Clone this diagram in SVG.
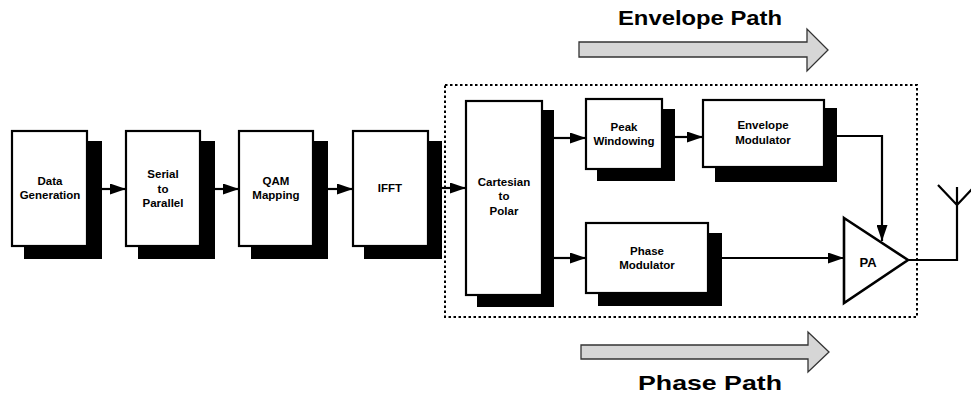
<svg xmlns="http://www.w3.org/2000/svg" width="971" height="394" viewBox="0 0 971 394">
<style>
.box{fill:#fff;stroke:#000;stroke-width:2.2}
.sh{fill:#000}
.t{font-family:"Liberation Sans",Arial,sans-serif;font-weight:bold;font-size:11.5px;fill:#000;text-anchor:middle}
.big{font-family:"Liberation Sans",Arial,sans-serif;font-weight:bold;font-size:21px;fill:#000;text-anchor:middle}
.ln{fill:none;stroke:#000;stroke-width:2.2}
.fat{fill:#d6d6d6;stroke:#333;stroke-width:1.3}
</style>
<defs>
<marker id="ah" markerUnits="userSpaceOnUse" markerWidth="16" markerHeight="11" refX="16" refY="5.5" orient="auto">
<path d="M0,0 L16,5.5 L0,11 Z" fill="#000"/>
</marker>
</defs>
<rect width="971" height="394" fill="#fff"/>

<g id="envelope-path-label">
<path class="fat" d="M579,42 L807,42 L807,29 L828,50 L807,71 L807,57 L579,57 Z"/>
<text class="big" x="700" y="25" textLength="164" lengthAdjust="spacingAndGlyphs">Envelope Path</text>
</g>
<g id="phase-path-label">
<path class="fat" d="M581,345 L808,345 L808,332 L829,352 L808,372 L808,359 L581,359 Z"/>
<text class="big" x="710" y="390" textLength="144" lengthAdjust="spacingAndGlyphs">Phase Path</text>
</g>

<g id="polar-region">
<rect x="445" y="85" width="472" height="232" fill="none" stroke="#000" stroke-width="2" stroke-dasharray="2.5,2.5"/>
</g>

<g id="data-generation">
<rect class="sh" x="24" y="141" width="78" height="118"/>
<rect class="box" x="12" y="131" width="75" height="115"/>
<text class="t" x="50" y="185">Data</text>
<text class="t" x="50" y="199">Generation</text>
</g>
<g id="serial-to-parallel">
<rect class="sh" x="138" y="141" width="77" height="118"/>
<rect class="box" x="126" y="131" width="74" height="115"/>
<text class="t" x="163" y="178">Serial</text>
<text class="t" x="163" y="193">to</text>
<text class="t" x="163" y="207">Parallel</text>
</g>
<g id="qam-mapping">
<rect class="sh" x="251" y="141" width="77" height="118"/>
<rect class="box" x="239" y="131" width="74" height="115"/>
<text class="t" x="276" y="185">QAM</text>
<text class="t" x="276" y="199">Mapping</text>
</g>
<g id="ifft">
<rect class="sh" x="364" y="141" width="78" height="118"/>
<rect class="box" x="353" y="131" width="75" height="115"/>
<text class="t" x="390" y="192">IFFT</text>
</g>
<g id="cartesian-to-polar">
<rect class="sh" x="477" y="110" width="77" height="197"/>
<rect class="box" x="466" y="101" width="76" height="194"/>
<text class="t" x="504" y="186">Cartesian</text>
<text class="t" x="504" y="200">to</text>
<text class="t" x="504" y="215">Polar</text>
</g>
<g id="peak-windowing">
<rect class="sh" x="597" y="109" width="78" height="72"/>
<rect class="box" x="586" y="99" width="76" height="70"/>
<text class="t" x="624" y="131">Peak</text>
<text class="t" x="624" y="145">Windowing</text>
</g>
<g id="envelope-modulator">
<rect class="sh" x="715" y="108" width="122" height="74"/>
<rect class="box" x="703" y="100" width="121" height="67"/>
<text class="t" x="763" y="129">Envelope</text>
<text class="t" x="763" y="144">Modulator</text>
</g>
<g id="phase-modulator">
<rect class="sh" x="598" y="233" width="124" height="73"/>
<rect class="box" x="586" y="223" width="122" height="70"/>
<text class="t" x="647" y="255">Phase</text>
<text class="t" x="647" y="269">Modulator</text>
</g>
<g id="pa">
<path d="M844,218 L908,260 L844,303 Z" fill="#fff" stroke="#000" stroke-width="2.6" stroke-linejoin="miter"/>
<text x="868" y="267" font-family="Liberation Sans, Arial, sans-serif" font-weight="bold" font-size="13" text-anchor="middle">PA</text>
</g>
<g id="antenna">
<path class="ln" d="M908,260 L957,260 L957,187 M957,205 L938,185 M957,205 L972,189"/>
</g>

<g id="connectors">
<line class="ln" x1="102" y1="189" x2="126" y2="189" marker-end="url(#ah)"/>
<line class="ln" x1="215" y1="189" x2="239" y2="189" marker-end="url(#ah)"/>
<line class="ln" x1="328" y1="189" x2="353" y2="189" marker-end="url(#ah)"/>
<line class="ln" x1="442" y1="188" x2="466" y2="188" marker-end="url(#ah)"/>
<line class="ln" x1="554" y1="138" x2="586" y2="138" marker-end="url(#ah)"/>
<line class="ln" x1="554" y1="258" x2="586" y2="258" marker-end="url(#ah)"/>
<line class="ln" x1="675" y1="137" x2="703" y2="137" marker-end="url(#ah)"/>
<line class="ln" x1="722" y1="258" x2="844" y2="258" marker-end="url(#ah)"/>
<path class="ln" d="M837,136 L882,136 L882,241" marker-end="url(#ah)"/>
</g>
</svg>
